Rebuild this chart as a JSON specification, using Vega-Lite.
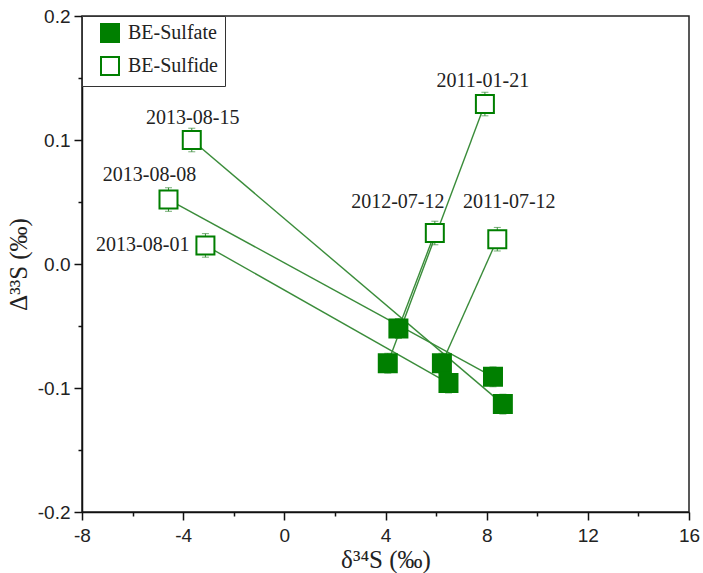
{
  "$schema": "https://vega.github.io/schema/vega-lite/v6.json",
  "autosize": {"type": "none"},
  "padding": {"left": 82, "top": 16, "right": 14, "bottom": 61},
  "width": 607,
  "height": 496,
  "background": "white",
  "config": {
    "view": {"stroke": "#222", "strokeWidth": 1.5},
    "axis": {
      "domainColor": "#111",
      "domainWidth": 1.5,
      "tickColor": "#111",
      "tickWidth": 1.5,
      "grid": false,
      "labelFont": "Liberation Sans",
      "labelFontSize": 19,
      "labelColor": "#222",
      "titleFont": "Liberation Serif",
      "titleFontSize": 25,
      "titleFontWeight": "normal",
      "titleColor": "#222"
    },
    "legend": {
      "orient": "none",
      "legendX": 0,
      "legendY": 0,
      "strokeColor": "#333",
      "fillColor": "white",
      "padding": 7,
      "symbolType": "square",
      "symbolSize": 324,
      "symbolStrokeWidth": 2,
      "symbolStrokeColor": "#007f00",
      "symbolOffset": 11,
      "labelOffset": 8,
      "labelFont": "Liberation Serif",
      "labelFontSize": 20,
      "labelColor": "#222",
      "rowPadding": 7
    }
  },
  "data": {
    "values": [
      {"pair": "2013-08-15", "type": "BE-Sulfide", "d34S": -3.66, "D33S": 0.100, "err": 0.0095},
      {"pair": "2013-08-08", "type": "BE-Sulfide", "d34S": -4.58, "D33S": 0.052, "err": 0.0095},
      {"pair": "2013-08-01", "type": "BE-Sulfide", "d34S": -3.12, "D33S": 0.015, "err": 0.0095},
      {"pair": "2011-01-21", "type": "BE-Sulfide", "d34S": 7.93, "D33S": 0.129, "err": 0.0095},
      {"pair": "2012-07-12", "type": "BE-Sulfide", "d34S": 5.95, "D33S": 0.025, "err": 0.0095},
      {"pair": "2011-07-12", "type": "BE-Sulfide", "d34S": 8.42, "D33S": 0.020, "err": 0.0095},
      {"pair": "2013-08-15", "type": "BE-Sulfate", "d34S": 8.64, "D33S": -0.113, "err": 0.008},
      {"pair": "2013-08-08", "type": "BE-Sulfate", "d34S": 8.25, "D33S": -0.091, "err": 0.008},
      {"pair": "2013-08-01", "type": "BE-Sulfate", "d34S": 6.49, "D33S": -0.096, "err": 0.008},
      {"pair": "2011-01-21", "type": "BE-Sulfate", "d34S": 4.09, "D33S": -0.080, "err": 0.008},
      {"pair": "2012-07-12", "type": "BE-Sulfate", "d34S": 4.51, "D33S": -0.052, "err": 0.008},
      {"pair": "2011-07-12", "type": "BE-Sulfate", "d34S": 6.23, "D33S": -0.080, "err": 0.008}
    ]
  },
  "encoding": {
    "x": {
      "field": "d34S",
      "type": "quantitative",
      "scale": {"domain": [-8, 16], "nice": false, "zero": false},
      "axis": {
        "title": "δ³⁴S (‰)",
        "values": [-8, -6, -4, -2, 0, 2, 4, 6, 8, 10, 12, 14, 16],
        "labelExpr": "datum.value % 4 === 0 ? '' + datum.value : ''",
        "tickSize": {"condition": {"test": "datum.value % 4 === 0", "value": 8}, "value": 4},
        "labelPadding": 6,
        "labelFlush": false,
        "titlePadding": 2
      }
    },
    "y": {
      "field": "D33S",
      "type": "quantitative",
      "scale": {"domain": [-0.2, 0.2], "nice": false, "zero": false},
      "axis": {
        "title": "Δ³³S (‰)",
        "values": [-0.2, -0.15, -0.1, -0.05, 0, 0.05, 0.1, 0.15, 0.2],
        "labelExpr": "abs(round(datum.value * 100)) % 10 === 0 ? (datum.value < 0 ? '-' : '') + format(abs(datum.value), '.1f') : ''",
        "tickSize": {"condition": {"test": "abs(round(datum.value * 100)) % 10 === 0", "value": 8}, "value": 4},
        "labelPadding": 4,
        "labelFlush": false,
        "titlePadding": 6
      }
    }
  },
  "layer": [
    {
      "mark": {"type": "line", "color": "#3a8c3a", "strokeWidth": 1.4},
      "encoding": {"detail": {"field": "pair"}}
    },
    {
      "mark": {"type": "errorbar", "ticks": {"size": 7, "color": "#3a8c3a"}, "rule": {"color": "#3a8c3a", "strokeWidth": 1}},
      "encoding": {"yError": {"field": "err"}}
    },
    {
      "mark": {"type": "point", "shape": "square", "size": 324, "filled": true, "stroke": "#007f00", "strokeWidth": 2, "opacity": 1},
      "encoding": {
        "fill": {
          "field": "type",
          "type": "nominal",
          "scale": {"domain": ["BE-Sulfate", "BE-Sulfide"], "range": ["#007f00", "#ffffff"]},
          "legend": {"title": null}
        }
      }
    },
    {
      "transform": [{"filter": "datum.type === 'BE-Sulfide' && datum.pair === '2013-08-15'"}],
      "mark": {"type": "text", "font": "Liberation Serif", "fontSize": 20, "color": "#222", "align": "center", "baseline": "alphabetic", "dx": 1, "dy": -16},
      "encoding": {"text": {"field": "pair"}}
    },
    {
      "transform": [{"filter": "datum.type === 'BE-Sulfide' && datum.pair === '2013-08-08'"}],
      "mark": {"type": "text", "font": "Liberation Serif", "fontSize": 20, "color": "#222", "align": "center", "baseline": "alphabetic", "dx": -19, "dy": -19},
      "encoding": {"text": {"field": "pair"}}
    },
    {
      "transform": [{"filter": "datum.type === 'BE-Sulfide' && datum.pair === '2013-08-01'"}],
      "mark": {"type": "text", "font": "Liberation Serif", "fontSize": 20, "color": "#222", "align": "right", "baseline": "alphabetic", "dx": -16, "dy": 6},
      "encoding": {"text": {"field": "pair"}}
    },
    {
      "transform": [{"filter": "datum.type === 'BE-Sulfide' && datum.pair === '2011-01-21'"}],
      "mark": {"type": "text", "font": "Liberation Serif", "fontSize": 20, "color": "#222", "align": "center", "baseline": "alphabetic", "dx": -2, "dy": -17},
      "encoding": {"text": {"field": "pair"}}
    },
    {
      "transform": [{"filter": "datum.type === 'BE-Sulfide' && datum.pair === '2012-07-12'"}],
      "mark": {"type": "text", "font": "Liberation Serif", "fontSize": 20, "color": "#222", "align": "center", "baseline": "alphabetic", "dx": -37, "dy": -25},
      "encoding": {"text": {"field": "pair"}}
    },
    {
      "transform": [{"filter": "datum.type === 'BE-Sulfide' && datum.pair === '2011-07-12'"}],
      "mark": {"type": "text", "font": "Liberation Serif", "fontSize": 20, "color": "#222", "align": "center", "baseline": "alphabetic", "dx": 12, "dy": -31},
      "encoding": {"text": {"field": "pair"}}
    }
  ]
}
